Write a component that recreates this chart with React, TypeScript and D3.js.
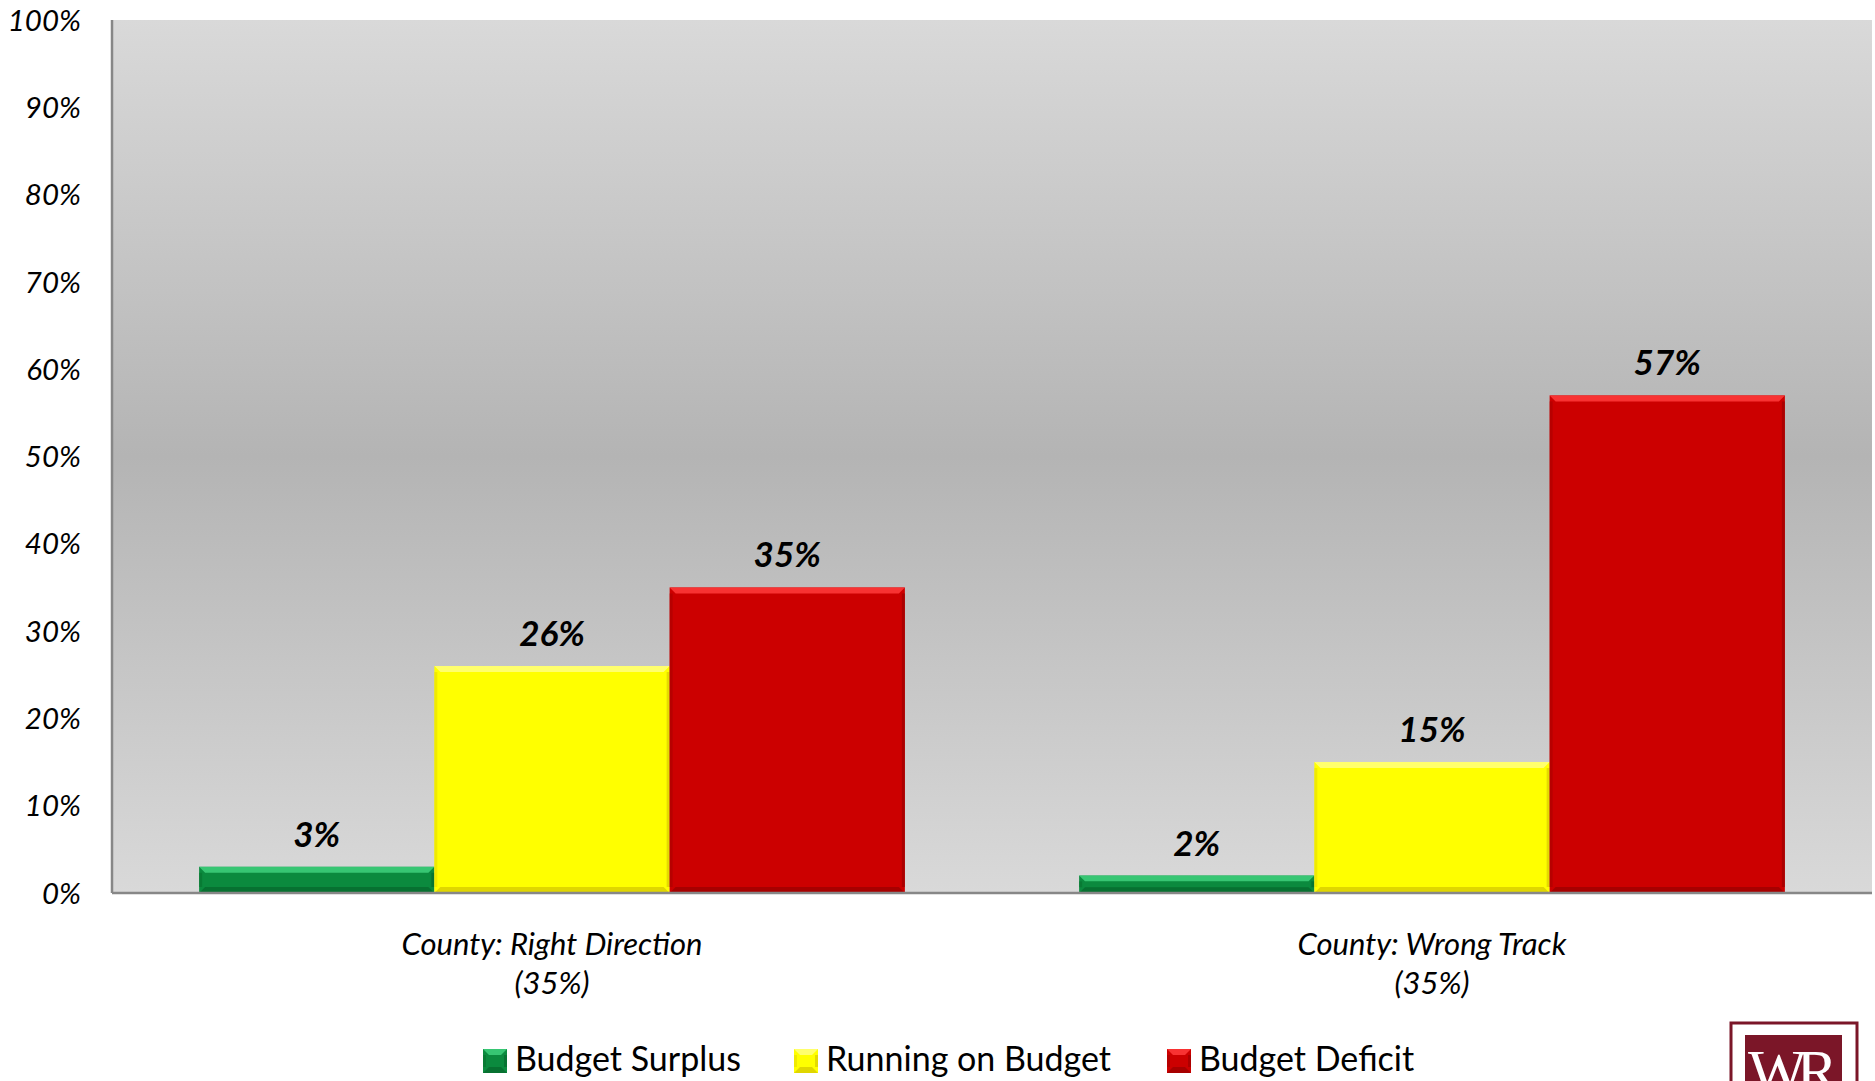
import React from "react";
import * as d3 from "d3";

const categories = ["County: Right Direction", "County: Wrong Track"];
const categorySubLabels = ["(35%)", "(35%)"];
const seriesNames = ["Budget Surplus", "Running on Budget", "Budget Deficit"];
const budgetSurplus = [0.03, 0.02];
const runningOnBudget = [0.26, 0.15];
const budgetDeficit = [0.35, 0.57];
const yTicks = [0, 0.1, 0.2, 0.3, 0.4, 0.5, 0.6, 0.7, 0.8, 0.9, 1.0];

const seriesValues = [budgetSurplus, runningOnBudget, budgetDeficit];
const seriesColors = [
  { main: "#0b8a3e", light: "#3fd07c", dark: "#066a2e", edge: "#07722f" },
  { main: "#ffff00", light: "#ffff80", dark: "#d8cc00", edge: "#e6dc00" },
  { main: "#cc0000", light: "#ff3b3b", dark: "#9e0000", edge: "#a80000" },
];

const W = 1875;
const H = 1081;
const M = { left: 112, right: 1872, top: 20, bottom: 893 };
const FONT = "Lato, 'Open Sans', sans-serif";

function Bar({ x, y, w, h, c }: { x: number; y: number; w: number; h: number; c: any }) {
  const b = Math.min(6, h / 3);
  const e = 3;
  return (
    <g>
      <rect x={x} y={y} width={w} height={h} fill={c.main} />
      <polygon
        points={`${x},${y} ${x + w},${y} ${x + w - b},${y + b} ${x + b},${y + b}`}
        fill={c.light}
        opacity={0.85}
      />
      <polygon
        points={`${x},${y + h} ${x + w},${y + h} ${x + w - b},${y + h - b} ${x + b},${y + h - b}`}
        fill={c.dark}
        opacity={0.8}
      />
      <rect x={x} y={y + b} width={e} height={Math.max(0, h - 2 * b)} fill={c.edge} opacity={0.6} />
      <rect x={x + w - e} y={y + b} width={e} height={Math.max(0, h - 2 * b)} fill={c.dark} opacity={0.7} />
    </g>
  );
}

export default function App() {
  const x0 = d3
    .scaleBand<string>()
    .domain(categories)
    .range([M.left, M.right])
    .paddingInner(0.198)
    .paddingOuter(0.099);
  const x1 = d3
    .scaleBand<string>()
    .domain(seriesNames)
    .range([0, x0.bandwidth()])
    .padding(0);
  const y = d3.scaleLinear().domain([0, 1]).range([M.bottom, M.top]);
  const pct = d3.format(".0%");

  const legendX = [483, 794, 1167];

  return (
    <svg
      width={W}
      height={H}
      style={{ position: "absolute", left: 0, top: 0, background: "#ffffff" }}
      fontFamily={FONT}
    >
      <defs>
        <linearGradient id="bg" x1="0" y1="0" x2="0" y2="1">
          <stop offset="0" stopColor="#d9d9d9" />
          <stop offset="0.5" stopColor="#b4b4b4" />
          <stop offset="1" stopColor="#d9d9d9" />
        </linearGradient>
      </defs>
      <rect x={M.left} y={M.top} width={M.right - M.left} height={M.bottom - M.top} fill="url(#bg)" />

      {yTicks.map((t) => (
        <text
          key={t}
          x={81}
          y={y(t)}
          dy="0.36em"
          textAnchor="end"
          fontSize={29.5}
          fontStyle="italic"
          fill="#000"
        >
          {pct(t)}
        </text>
      ))}

      {categories.map((cat, ci) => (
        <g key={cat}>
          {seriesNames.map((s, si) => {
            const v = seriesValues[si][ci];
            const bx = (x0(cat) as number) + (x1(s) as number);
            const bw = x1.bandwidth();
            const by = y(v);
            const bh = y(0) - y(v);
            return (
              <g key={s}>
                <Bar x={bx} y={by} w={bw} h={bh} c={seriesColors[si]} />
                <text
                  x={bx + bw / 2}
                  y={by - 20}
                  textAnchor="middle"
                  fontSize={35}
                  fontWeight="bold"
                  fontStyle="italic"
                  fill="#000"
                >
                  {pct(v)}
                </text>
              </g>
            );
          })}
          <text
            x={(x0(cat) as number) + x0.bandwidth() / 2}
            y={955}
            textAnchor="middle"
            fontSize={31}
            fontStyle="italic"
            fill="#000"
          >
            {cat}
          </text>
          <text
            x={(x0(cat) as number) + x0.bandwidth() / 2}
            y={994}
            textAnchor="middle"
            fontSize={31}
            fontStyle="italic"
            fill="#000"
          >
            {categorySubLabels[ci]}
          </text>
        </g>
      ))}

      <line x1={M.left} y1={M.top} x2={M.left} y2={M.bottom} stroke="#878787" strokeWidth={2.5} />
      <line x1={M.left} y1={M.bottom} x2={M.right} y2={M.bottom} stroke="#878787" strokeWidth={2.5} />

      {seriesNames.map((s, si) => (
        <g key={s} transform={`translate(${legendX[si]},1049)`}>
          <Bar x={0} y={0} w={24} h={24} c={seriesColors[si]} />
          <text x={32} y={22} fontSize={34} fill="#000">
            {s}
          </text>
        </g>
      ))}

      <g>
        <rect x={1731} y={1023} width={126} height={80} fill="#ffffff" stroke="#7b1628" strokeWidth={3} />
        <rect x={1745} y={1035} width={97} height={60} fill="#7b1628" />
        <text
          x={1748}
          y={1092}
          fontSize={62}
          fontFamily="'Liberation Serif', 'DejaVu Serif', serif"
          fill="#ffffff"
          letterSpacing={-10}
        >
          WR
        </text>
      </g>
    </svg>
  );
}
